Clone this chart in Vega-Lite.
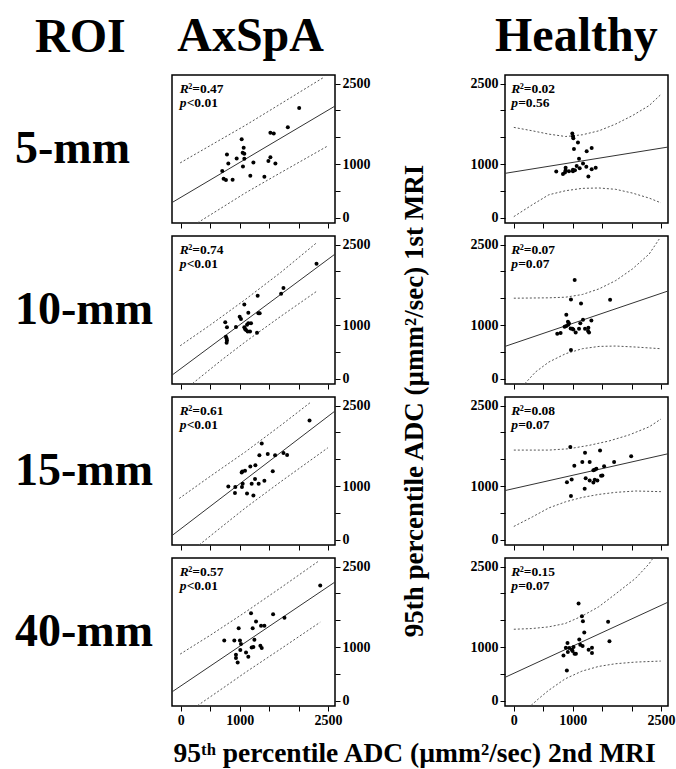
{
"$schema":"https://vega.github.io/schema/vega-lite/v6.json",
"padding":{"left":15,"top":13,"right":5,"bottom":5},
"datasets":{"s":[
{"grp":"AxSpA","roi":"5-mm","r2":"²=0.47","p":"<0.01"},
{"grp":"Healthy","roi":"5-mm","r2":"²=0.02","p":"=0.56"},
{"grp":"AxSpA","roi":"10-mm","r2":"²=0.74","p":"<0.01"},
{"grp":"Healthy","roi":"10-mm","r2":"²=0.07","p":"=0.07"},
{"grp":"AxSpA","roi":"15-mm","r2":"²=0.61","p":"<0.01"},
{"grp":"Healthy","roi":"15-mm","r2":"²=0.08","p":"=0.07"},
{"grp":"AxSpA","roi":"40-mm","r2":"²=0.57","p":"<0.01"},
{"grp":"Healthy","roi":"40-mm","r2":"²=0.15","p":"=0.07"}],
"d":[
{"grp":"AxSpA","roi":"5-mm","kind":"pt","x":2011,"y":2046},{"grp":"AxSpA","roi":"5-mm","kind":"pt","x":1818,"y":1686},{"grp":"AxSpA","roi":"5-mm","kind":"pt","x":1522,"y":1581},{"grp":"AxSpA","roi":"5-mm","kind":"pt","x":1579,"y":1569},{"grp":"AxSpA","roi":"5-mm","kind":"pt","x":1034,"y":1463},{"grp":"AxSpA","roi":"5-mm","kind":"pt","x":1068,"y":1302},{"grp":"AxSpA","roi":"5-mm","kind":"pt","x":784,"y":1178},{"grp":"AxSpA","roi":"5-mm","kind":"pt","x":1051,"y":1209},{"grp":"AxSpA","roi":"5-mm","kind":"pt","x":1079,"y":1190},{"grp":"AxSpA","roi":"5-mm","kind":"pt","x":949,"y":1104},{"grp":"AxSpA","roi":"5-mm","kind":"pt","x":1079,"y":1097},{"grp":"AxSpA","roi":"5-mm","kind":"pt","x":807,"y":1011},{"grp":"AxSpA","roi":"5-mm","kind":"pt","x":1233,"y":1029},{"grp":"AxSpA","roi":"5-mm","kind":"pt","x":1488,"y":1054},{"grp":"AxSpA","roi":"5-mm","kind":"pt","x":1522,"y":1128},{"grp":"AxSpA","roi":"5-mm","kind":"pt","x":1607,"y":1011},{"grp":"AxSpA","roi":"5-mm","kind":"pt","x":1056,"y":955},{"grp":"AxSpA","roi":"5-mm","kind":"pt","x":704,"y":868},{"grp":"AxSpA","roi":"5-mm","kind":"pt","x":1181,"y":781},{"grp":"AxSpA","roi":"5-mm","kind":"pt","x":1420,"y":763},{"grp":"AxSpA","roi":"5-mm","kind":"pt","x":727,"y":725},{"grp":"AxSpA","roi":"5-mm","kind":"pt","x":767,"y":701},{"grp":"AxSpA","roi":"5-mm","kind":"pt","x":880,"y":707},
{"grp":"AxSpA","roi":"5-mm","kind":"fit","x":-150,"y":281},{"grp":"AxSpA","roi":"5-mm","kind":"fit","x":2620,"y":2081},
{"grp":"AxSpA","roi":"5-mm","kind":"up","x":-11,"y":1021},{"grp":"AxSpA","roi":"5-mm","kind":"up","x":600,"y":1408},{"grp":"AxSpA","roi":"5-mm","kind":"up","x":1100,"y":1723},{"grp":"AxSpA","roi":"5-mm","kind":"up","x":1600,"y":2058},{"grp":"AxSpA","roi":"5-mm","kind":"up","x":2442,"y":2625},
{"grp":"AxSpA","roi":"5-mm","kind":"lo","x":284,"y":-97},{"grp":"AxSpA","roi":"5-mm","kind":"lo","x":700,"y":188},{"grp":"AxSpA","roi":"5-mm","kind":"lo","x":1100,"y":463},{"grp":"AxSpA","roi":"5-mm","kind":"lo","x":1600,"y":778},{"grp":"AxSpA","roi":"5-mm","kind":"lo","x":2499,"y":1338},

{"grp":"Healthy","roi":"5-mm","kind":"pt","x":994,"y":1570},{"grp":"Healthy","roi":"5-mm","kind":"pt","x":1005,"y":1520},{"grp":"Healthy","roi":"5-mm","kind":"pt","x":1011,"y":1482},{"grp":"Healthy","roi":"5-mm","kind":"pt","x":1090,"y":1400},{"grp":"Healthy","roi":"5-mm","kind":"pt","x":1022,"y":1281},{"grp":"Healthy","roi":"5-mm","kind":"pt","x":1323,"y":1300},{"grp":"Healthy","roi":"5-mm","kind":"pt","x":1238,"y":1237},{"grp":"Healthy","roi":"5-mm","kind":"pt","x":1108,"y":1099},{"grp":"Healthy","roi":"5-mm","kind":"pt","x":1176,"y":1011},{"grp":"Healthy","roi":"5-mm","kind":"pt","x":1068,"y":961},{"grp":"Healthy","roi":"5-mm","kind":"pt","x":1119,"y":923},{"grp":"Healthy","roi":"5-mm","kind":"pt","x":1232,"y":948},{"grp":"Healthy","roi":"5-mm","kind":"pt","x":1005,"y":892},{"grp":"Healthy","roi":"5-mm","kind":"pt","x":1039,"y":885},{"grp":"Healthy","roi":"5-mm","kind":"pt","x":1323,"y":904},{"grp":"Healthy","roi":"5-mm","kind":"pt","x":1391,"y":929},{"grp":"Healthy","roi":"5-mm","kind":"pt","x":880,"y":929},{"grp":"Healthy","roi":"5-mm","kind":"pt","x":880,"y":885},{"grp":"Healthy","roi":"5-mm","kind":"pt","x":721,"y":860},{"grp":"Healthy","roi":"5-mm","kind":"pt","x":869,"y":841},{"grp":"Healthy","roi":"5-mm","kind":"pt","x":835,"y":816},{"grp":"Healthy","roi":"5-mm","kind":"pt","x":1267,"y":766},{"grp":"Healthy","roi":"5-mm","kind":"pt","x":1005,"y":867},{"grp":"Healthy","roi":"5-mm","kind":"pt","x":937,"y":867},
{"grp":"Healthy","roi":"5-mm","kind":"fit","x":-150,"y":826},{"grp":"Healthy","roi":"5-mm","kind":"fit","x":2630,"y":1318},
{"grp":"Healthy","roi":"5-mm","kind":"up","x":0,"y":1683},{"grp":"Healthy","roi":"5-mm","kind":"up","x":312,"y":1620},{"grp":"Healthy","roi":"5-mm","kind":"up","x":596,"y":1557},{"grp":"Healthy","roi":"5-mm","kind":"up","x":880,"y":1513},{"grp":"Healthy","roi":"5-mm","kind":"up","x":1164,"y":1545},{"grp":"Healthy","roi":"5-mm","kind":"up","x":1448,"y":1620},{"grp":"Healthy","roi":"5-mm","kind":"up","x":1732,"y":1746},{"grp":"Healthy","roi":"5-mm","kind":"up","x":2016,"y":1903},{"grp":"Healthy","roi":"5-mm","kind":"up","x":2301,"y":2091},{"grp":"Healthy","roi":"5-mm","kind":"up","x":2500,"y":2298},
{"grp":"Healthy","roi":"5-mm","kind":"lo","x":0,"y":19},{"grp":"Healthy","roi":"5-mm","kind":"lo","x":312,"y":239},{"grp":"Healthy","roi":"5-mm","kind":"lo","x":596,"y":427},{"grp":"Healthy","roi":"5-mm","kind":"lo","x":880,"y":502},{"grp":"Healthy","roi":"5-mm","kind":"lo","x":1164,"y":546},{"grp":"Healthy","roi":"5-mm","kind":"lo","x":1448,"y":553},{"grp":"Healthy","roi":"5-mm","kind":"lo","x":1732,"y":528},{"grp":"Healthy","roi":"5-mm","kind":"lo","x":2016,"y":458},{"grp":"Healthy","roi":"5-mm","kind":"lo","x":2301,"y":364},{"grp":"Healthy","roi":"5-mm","kind":"lo","x":2500,"y":276},

{"grp":"AxSpA","roi":"10-mm","kind":"pt","x":2306,"y":2144},{"grp":"AxSpA","roi":"10-mm","kind":"pt","x":1744,"y":1688},{"grp":"AxSpA","roi":"10-mm","kind":"pt","x":1704,"y":1581},{"grp":"AxSpA","roi":"10-mm","kind":"pt","x":1306,"y":1544},{"grp":"AxSpA","roi":"10-mm","kind":"pt","x":1079,"y":1381},{"grp":"AxSpA","roi":"10-mm","kind":"pt","x":1147,"y":1231},{"grp":"AxSpA","roi":"10-mm","kind":"pt","x":1318,"y":1219},{"grp":"AxSpA","roi":"10-mm","kind":"pt","x":1340,"y":1219},{"grp":"AxSpA","roi":"10-mm","kind":"pt","x":1000,"y":1156},{"grp":"AxSpA","roi":"10-mm","kind":"pt","x":1022,"y":1113},{"grp":"AxSpA","roi":"10-mm","kind":"pt","x":755,"y":1050},{"grp":"AxSpA","roi":"10-mm","kind":"pt","x":1147,"y":1031},{"grp":"AxSpA","roi":"10-mm","kind":"pt","x":1193,"y":1031},{"grp":"AxSpA","roi":"10-mm","kind":"pt","x":1125,"y":1006},{"grp":"AxSpA","roi":"10-mm","kind":"pt","x":937,"y":963},{"grp":"AxSpA","roi":"10-mm","kind":"pt","x":784,"y":956},{"grp":"AxSpA","roi":"10-mm","kind":"pt","x":1079,"y":956},{"grp":"AxSpA","roi":"10-mm","kind":"pt","x":1091,"y":925},{"grp":"AxSpA","roi":"10-mm","kind":"pt","x":1108,"y":906},{"grp":"AxSpA","roi":"10-mm","kind":"pt","x":1136,"y":881},{"grp":"AxSpA","roi":"10-mm","kind":"pt","x":1176,"y":881},{"grp":"AxSpA","roi":"10-mm","kind":"pt","x":1295,"y":856},{"grp":"AxSpA","roi":"10-mm","kind":"pt","x":767,"y":781},{"grp":"AxSpA","roi":"10-mm","kind":"pt","x":778,"y":750},{"grp":"AxSpA","roi":"10-mm","kind":"pt","x":784,"y":713},{"grp":"AxSpA","roi":"10-mm","kind":"pt","x":778,"y":669},
{"grp":"AxSpA","roi":"10-mm","kind":"fit","x":-150,"y":65},{"grp":"AxSpA","roi":"10-mm","kind":"fit","x":2630,"y":2331},
{"grp":"AxSpA","roi":"10-mm","kind":"up","x":-11,"y":613},{"grp":"AxSpA","roi":"10-mm","kind":"up","x":500,"y":1000},{"grp":"AxSpA","roi":"10-mm","kind":"up","x":1100,"y":1479},{"grp":"AxSpA","roi":"10-mm","kind":"up","x":1700,"y":1983},{"grp":"AxSpA","roi":"10-mm","kind":"up","x":2300,"y":2527},
{"grp":"AxSpA","roi":"10-mm","kind":"lo","x":199,"y":-91},{"grp":"AxSpA","roi":"10-mm","kind":"lo","x":700,"y":353},{"grp":"AxSpA","roi":"10-mm","kind":"lo","x":1100,"y":689},{"grp":"AxSpA","roi":"10-mm","kind":"lo","x":1700,"y":1163},{"grp":"AxSpA","roi":"10-mm","kind":"lo","x":2300,"y":1622},

{"grp":"Healthy","roi":"10-mm","kind":"pt","x":1034,"y":1841},{"grp":"Healthy","roi":"10-mm","kind":"pt","x":971,"y":1476},{"grp":"Healthy","roi":"10-mm","kind":"pt","x":1142,"y":1401},{"grp":"Healthy","roi":"10-mm","kind":"pt","x":1636,"y":1469},{"grp":"Healthy","roi":"10-mm","kind":"pt","x":892,"y":1190},{"grp":"Healthy","roi":"10-mm","kind":"pt","x":920,"y":1060},{"grp":"Healthy","roi":"10-mm","kind":"pt","x":937,"y":1035},{"grp":"Healthy","roi":"10-mm","kind":"pt","x":926,"y":1004},{"grp":"Healthy","roi":"10-mm","kind":"pt","x":1176,"y":1097},{"grp":"Healthy","roi":"10-mm","kind":"pt","x":1130,"y":1035},{"grp":"Healthy","roi":"10-mm","kind":"pt","x":1318,"y":1085},{"grp":"Healthy","roi":"10-mm","kind":"pt","x":863,"y":967},{"grp":"Healthy","roi":"10-mm","kind":"pt","x":966,"y":936},{"grp":"Healthy","roi":"10-mm","kind":"pt","x":994,"y":930},{"grp":"Healthy","roi":"10-mm","kind":"pt","x":892,"y":980},{"grp":"Healthy","roi":"10-mm","kind":"pt","x":1011,"y":918},{"grp":"Healthy","roi":"10-mm","kind":"pt","x":1108,"y":930},{"grp":"Healthy","roi":"10-mm","kind":"pt","x":1210,"y":930},{"grp":"Healthy","roi":"10-mm","kind":"pt","x":1267,"y":949},{"grp":"Healthy","roi":"10-mm","kind":"pt","x":1261,"y":887},{"grp":"Healthy","roi":"10-mm","kind":"pt","x":1051,"y":862},{"grp":"Healthy","roi":"10-mm","kind":"pt","x":795,"y":849},{"grp":"Healthy","roi":"10-mm","kind":"pt","x":738,"y":837},{"grp":"Healthy","roi":"10-mm","kind":"pt","x":1278,"y":862},{"grp":"Healthy","roi":"10-mm","kind":"pt","x":971,"y":533},
{"grp":"Healthy","roi":"10-mm","kind":"fit","x":-150,"y":601},{"grp":"Healthy","roi":"10-mm","kind":"fit","x":2630,"y":1638},
{"grp":"Healthy","roi":"10-mm","kind":"up","x":0,"y":1500},{"grp":"Healthy","roi":"10-mm","kind":"up","x":596,"y":1507},{"grp":"Healthy","roi":"10-mm","kind":"up","x":880,"y":1519},{"grp":"Healthy","roi":"10-mm","kind":"up","x":1164,"y":1569},{"grp":"Healthy","roi":"10-mm","kind":"up","x":1448,"y":1674},{"grp":"Healthy","roi":"10-mm","kind":"up","x":1732,"y":1829},{"grp":"Healthy","roi":"10-mm","kind":"up","x":2016,"y":2046},{"grp":"Healthy","roi":"10-mm","kind":"up","x":2301,"y":2325},{"grp":"Healthy","roi":"10-mm","kind":"up","x":2471,"y":2604},
{"grp":"Healthy","roi":"10-mm","kind":"lo","x":187,"y":-93},{"grp":"Healthy","roi":"10-mm","kind":"lo","x":369,"y":124},{"grp":"Healthy","roi":"10-mm","kind":"lo","x":596,"y":310},{"grp":"Healthy","roi":"10-mm","kind":"lo","x":880,"y":465},{"grp":"Healthy","roi":"10-mm","kind":"lo","x":1164,"y":558},{"grp":"Healthy","roi":"10-mm","kind":"lo","x":1448,"y":601},{"grp":"Healthy","roi":"10-mm","kind":"lo","x":1732,"y":608},{"grp":"Healthy","roi":"10-mm","kind":"lo","x":2073,"y":589},{"grp":"Healthy","roi":"10-mm","kind":"lo","x":2500,"y":558},

{"grp":"AxSpA","roi":"15-mm","kind":"pt","x":2187,"y":2223},{"grp":"AxSpA","roi":"15-mm","kind":"pt","x":1375,"y":1793},{"grp":"AxSpA","roi":"15-mm","kind":"pt","x":1335,"y":1572},{"grp":"AxSpA","roi":"15-mm","kind":"pt","x":1477,"y":1596},{"grp":"AxSpA","roi":"15-mm","kind":"pt","x":1602,"y":1572},{"grp":"AxSpA","roi":"15-mm","kind":"pt","x":1744,"y":1615},{"grp":"AxSpA","roi":"15-mm","kind":"pt","x":1806,"y":1578},{"grp":"AxSpA","roi":"15-mm","kind":"pt","x":1267,"y":1388},{"grp":"AxSpA","roi":"15-mm","kind":"pt","x":1181,"y":1363},{"grp":"AxSpA","roi":"15-mm","kind":"pt","x":1045,"y":1271},{"grp":"AxSpA","roi":"15-mm","kind":"pt","x":1091,"y":1283},{"grp":"AxSpA","roi":"15-mm","kind":"pt","x":1034,"y":1253},{"grp":"AxSpA","roi":"15-mm","kind":"pt","x":1562,"y":1277},{"grp":"AxSpA","roi":"15-mm","kind":"pt","x":807,"y":989},{"grp":"AxSpA","roi":"15-mm","kind":"pt","x":926,"y":982},{"grp":"AxSpA","roi":"15-mm","kind":"pt","x":1051,"y":1044},{"grp":"AxSpA","roi":"15-mm","kind":"pt","x":1039,"y":982},{"grp":"AxSpA","roi":"15-mm","kind":"pt","x":1261,"y":1130},{"grp":"AxSpA","roi":"15-mm","kind":"pt","x":1204,"y":1044},{"grp":"AxSpA","roi":"15-mm","kind":"pt","x":1323,"y":1044},{"grp":"AxSpA","roi":"15-mm","kind":"pt","x":1420,"y":1099},{"grp":"AxSpA","roi":"15-mm","kind":"pt","x":920,"y":872},{"grp":"AxSpA","roi":"15-mm","kind":"pt","x":1125,"y":860},{"grp":"AxSpA","roi":"15-mm","kind":"pt","x":1233,"y":823},
{"grp":"AxSpA","roi":"15-mm","kind":"fit","x":-150,"y":76},{"grp":"AxSpA","roi":"15-mm","kind":"fit","x":2630,"y":2407},
{"grp":"AxSpA","roi":"15-mm","kind":"up","x":-28,"y":768},{"grp":"AxSpA","roi":"15-mm","kind":"up","x":500,"y":1181},{"grp":"AxSpA","roi":"15-mm","kind":"up","x":1100,"y":1639},{"grp":"AxSpA","roi":"15-mm","kind":"up","x":1700,"y":2132},{"grp":"AxSpA","roi":"15-mm","kind":"up","x":2204,"y":2560},
{"grp":"AxSpA","roi":"15-mm","kind":"lo","x":312,"y":-98},{"grp":"AxSpA","roi":"15-mm","kind":"lo","x":700,"y":244},{"grp":"AxSpA","roi":"15-mm","kind":"lo","x":1100,"y":594},{"grp":"AxSpA","roi":"15-mm","kind":"lo","x":1700,"y":1082},{"grp":"AxSpA","roi":"15-mm","kind":"lo","x":2499,"y":1713},

{"grp":"Healthy","roi":"15-mm","kind":"pt","x":960,"y":1726},{"grp":"Healthy","roi":"15-mm","kind":"pt","x":1210,"y":1619},{"grp":"Healthy","roi":"15-mm","kind":"pt","x":1465,"y":1663},{"grp":"Healthy","roi":"15-mm","kind":"pt","x":1994,"y":1556},{"grp":"Healthy","roi":"15-mm","kind":"pt","x":1028,"y":1380},{"grp":"Healthy","roi":"15-mm","kind":"pt","x":1164,"y":1449},{"grp":"Healthy","roi":"15-mm","kind":"pt","x":1289,"y":1449},{"grp":"Healthy","roi":"15-mm","kind":"pt","x":1704,"y":1449},{"grp":"Healthy","roi":"15-mm","kind":"pt","x":1534,"y":1367},{"grp":"Healthy","roi":"15-mm","kind":"pt","x":1375,"y":1304},{"grp":"Healthy","roi":"15-mm","kind":"pt","x":1403,"y":1323},{"grp":"Healthy","roi":"15-mm","kind":"pt","x":1352,"y":1292},{"grp":"Healthy","roi":"15-mm","kind":"pt","x":1221,"y":1147},{"grp":"Healthy","roi":"15-mm","kind":"pt","x":983,"y":1121},{"grp":"Healthy","roi":"15-mm","kind":"pt","x":1289,"y":1103},{"grp":"Healthy","roi":"15-mm","kind":"pt","x":1420,"y":1103},{"grp":"Healthy","roi":"15-mm","kind":"pt","x":1482,"y":1191},{"grp":"Healthy","roi":"15-mm","kind":"pt","x":1505,"y":1197},{"grp":"Healthy","roi":"15-mm","kind":"pt","x":1375,"y":1115},{"grp":"Healthy","roi":"15-mm","kind":"pt","x":1352,"y":1065},{"grp":"Healthy","roi":"15-mm","kind":"pt","x":903,"y":1071},{"grp":"Healthy","roi":"15-mm","kind":"pt","x":971,"y":813},{"grp":"Healthy","roi":"15-mm","kind":"pt","x":1204,"y":951},
{"grp":"Healthy","roi":"15-mm","kind":"fit","x":-150,"y":915},{"grp":"Healthy","roi":"15-mm","kind":"fit","x":2630,"y":1604},
{"grp":"Healthy","roi":"15-mm","kind":"up","x":0,"y":1670},{"grp":"Healthy","roi":"15-mm","kind":"up","x":596,"y":1670},{"grp":"Healthy","roi":"15-mm","kind":"up","x":937,"y":1695},{"grp":"Healthy","roi":"15-mm","kind":"up","x":1278,"y":1758},{"grp":"Healthy","roi":"15-mm","kind":"up","x":1619,"y":1840},{"grp":"Healthy","roi":"15-mm","kind":"up","x":1960,"y":1953},{"grp":"Healthy","roi":"15-mm","kind":"up","x":2301,"y":2104},{"grp":"Healthy","roi":"15-mm","kind":"up","x":2500,"y":2249},
{"grp":"Healthy","roi":"15-mm","kind":"lo","x":0,"y":246},{"grp":"Healthy","roi":"15-mm","kind":"lo","x":312,"y":422},{"grp":"Healthy","roi":"15-mm","kind":"lo","x":596,"y":592},{"grp":"Healthy","roi":"15-mm","kind":"lo","x":880,"y":706},{"grp":"Healthy","roi":"15-mm","kind":"lo","x":1164,"y":788},{"grp":"Healthy","roi":"15-mm","kind":"lo","x":1448,"y":844},{"grp":"Healthy","roi":"15-mm","kind":"lo","x":1732,"y":882},{"grp":"Healthy","roi":"15-mm","kind":"lo","x":2073,"y":907},{"grp":"Healthy","roi":"15-mm","kind":"lo","x":2500,"y":895},

{"grp":"AxSpA","roi":"40-mm","kind":"pt","x":2369,"y":2145},{"grp":"AxSpA","roi":"40-mm","kind":"pt","x":1193,"y":1631},{"grp":"AxSpA","roi":"40-mm","kind":"pt","x":1568,"y":1612},{"grp":"AxSpA","roi":"40-mm","kind":"pt","x":1761,"y":1544},{"grp":"AxSpA","roi":"40-mm","kind":"pt","x":1278,"y":1476},{"grp":"AxSpA","roi":"40-mm","kind":"pt","x":1363,"y":1395},{"grp":"AxSpA","roi":"40-mm","kind":"pt","x":1420,"y":1395},{"grp":"AxSpA","roi":"40-mm","kind":"pt","x":983,"y":1352},{"grp":"AxSpA","roi":"40-mm","kind":"pt","x":1221,"y":1352},{"grp":"AxSpA","roi":"40-mm","kind":"pt","x":738,"y":1122},{"grp":"AxSpA","roi":"40-mm","kind":"pt","x":909,"y":1122},{"grp":"AxSpA","roi":"40-mm","kind":"pt","x":1005,"y":1122},{"grp":"AxSpA","roi":"40-mm","kind":"pt","x":1022,"y":1054},{"grp":"AxSpA","roi":"40-mm","kind":"pt","x":1250,"y":1135},{"grp":"AxSpA","roi":"40-mm","kind":"pt","x":1233,"y":998},{"grp":"AxSpA","roi":"40-mm","kind":"pt","x":1204,"y":992},{"grp":"AxSpA","roi":"40-mm","kind":"pt","x":1352,"y":1023},{"grp":"AxSpA","roi":"40-mm","kind":"pt","x":1375,"y":980},{"grp":"AxSpA","roi":"40-mm","kind":"pt","x":1011,"y":942},{"grp":"AxSpA","roi":"40-mm","kind":"pt","x":1108,"y":899},{"grp":"AxSpA","roi":"40-mm","kind":"pt","x":937,"y":856},{"grp":"AxSpA","roi":"40-mm","kind":"pt","x":937,"y":794},{"grp":"AxSpA","roi":"40-mm","kind":"pt","x":1147,"y":818},{"grp":"AxSpA","roi":"40-mm","kind":"pt","x":966,"y":713},
{"grp":"AxSpA","roi":"40-mm","kind":"fit","x":-150,"y":163},{"grp":"AxSpA","roi":"40-mm","kind":"fit","x":2630,"y":2220},
{"grp":"AxSpA","roi":"40-mm","kind":"up","x":-11,"y":868},{"grp":"AxSpA","roi":"40-mm","kind":"up","x":500,"y":1219},{"grp":"AxSpA","roi":"40-mm","kind":"up","x":1100,"y":1653},{"grp":"AxSpA","roi":"40-mm","kind":"up","x":1700,"y":2107},{"grp":"AxSpA","roi":"40-mm","kind":"up","x":2329,"y":2592},
{"grp":"AxSpA","roi":"40-mm","kind":"lo","x":227,"y":-136},{"grp":"AxSpA","roi":"40-mm","kind":"lo","x":700,"y":222},{"grp":"AxSpA","roi":"40-mm","kind":"lo","x":1100,"y":528},{"grp":"AxSpA","roi":"40-mm","kind":"lo","x":1700,"y":967},{"grp":"AxSpA","roi":"40-mm","kind":"lo","x":2369,"y":1463},

{"grp":"Healthy","roi":"40-mm","kind":"pt","x":1100,"y":1813},{"grp":"Healthy","roi":"40-mm","kind":"pt","x":1157,"y":1575},{"grp":"Healthy","roi":"40-mm","kind":"pt","x":1174,"y":1481},{"grp":"Healthy","roi":"40-mm","kind":"pt","x":1602,"y":1469},{"grp":"Healthy","roi":"40-mm","kind":"pt","x":1197,"y":1269},{"grp":"Healthy","roi":"40-mm","kind":"pt","x":1625,"y":1106},{"grp":"Healthy","roi":"40-mm","kind":"pt","x":1112,"y":1138},{"grp":"Healthy","roi":"40-mm","kind":"pt","x":1129,"y":1044},{"grp":"Healthy","roi":"40-mm","kind":"pt","x":1169,"y":1019},{"grp":"Healthy","roi":"40-mm","kind":"pt","x":1015,"y":1000},{"grp":"Healthy","roi":"40-mm","kind":"pt","x":912,"y":1075},{"grp":"Healthy","roi":"40-mm","kind":"pt","x":884,"y":988},{"grp":"Healthy","roi":"40-mm","kind":"pt","x":918,"y":906},{"grp":"Healthy","roi":"40-mm","kind":"pt","x":986,"y":950},{"grp":"Healthy","roi":"40-mm","kind":"pt","x":998,"y":925},{"grp":"Healthy","roi":"40-mm","kind":"pt","x":1055,"y":875},{"grp":"Healthy","roi":"40-mm","kind":"pt","x":1032,"y":875},{"grp":"Healthy","roi":"40-mm","kind":"pt","x":1271,"y":950},{"grp":"Healthy","roi":"40-mm","kind":"pt","x":1328,"y":988},{"grp":"Healthy","roi":"40-mm","kind":"pt","x":1328,"y":888},{"grp":"Healthy","roi":"40-mm","kind":"pt","x":844,"y":844},{"grp":"Healthy","roi":"40-mm","kind":"pt","x":901,"y":563},{"grp":"Healthy","roi":"40-mm","kind":"pt","x":941,"y":981},
{"grp":"Healthy","roi":"40-mm","kind":"fit","x":-150,"y":434},{"grp":"Healthy","roi":"40-mm","kind":"fit","x":2630,"y":1841},
{"grp":"Healthy","roi":"40-mm","kind":"up","x":0,"y":1331},{"grp":"Healthy","roi":"40-mm","kind":"up","x":302,"y":1344},{"grp":"Healthy","roi":"40-mm","kind":"up","x":587,"y":1375},{"grp":"Healthy","roi":"40-mm","kind":"up","x":872,"y":1438},{"grp":"Healthy","roi":"40-mm","kind":"up","x":1157,"y":1575},{"grp":"Healthy","roi":"40-mm","kind":"up","x":1442,"y":1750},{"grp":"Healthy","roi":"40-mm","kind":"up","x":1727,"y":1988},{"grp":"Healthy","roi":"40-mm","kind":"up","x":2069,"y":2281},{"grp":"Healthy","roi":"40-mm","kind":"up","x":2297,"y":2550},{"grp":"Healthy","roi":"40-mm","kind":"up","x":2380,"y":2680},
{"grp":"Healthy","roi":"40-mm","kind":"lo","x":245,"y":-137},{"grp":"Healthy","roi":"40-mm","kind":"lo","x":416,"y":31},{"grp":"Healthy","roi":"40-mm","kind":"lo","x":587,"y":188},{"grp":"Healthy","roi":"40-mm","kind":"lo","x":872,"y":406},{"grp":"Healthy","roi":"40-mm","kind":"lo","x":1157,"y":550},{"grp":"Healthy","roi":"40-mm","kind":"lo","x":1442,"y":638},{"grp":"Healthy","roi":"40-mm","kind":"lo","x":1727,"y":688},{"grp":"Healthy","roi":"40-mm","kind":"lo","x":2069,"y":719},{"grp":"Healthy","roi":"40-mm","kind":"lo","x":2497,"y":738}
]},
"title":{"text":"95ᵗʰ percentile ADC (µmm²/sec) 2nd MRI","orient":"bottom","anchor":"end","fontSize":27.5,"offset":12,"dx":-20},
"spacing":16,
"hconcat":[
{"title":{"text":"ROI","fontSize":48,"anchor":"start","dx":20,"offset":13},"spacing":13,"vconcat":[
{"width":140,"height":148,"view":{"stroke":null},"data":{"values":[{"label":"5-mm"}]},"mark":{"type":"text","fontSize":46,"baseline":"middle"},"encoding":{"text":{"field":"label"},"x":{"datum":0,"scale":{"domain":[0,1]},"axis":null}}},
{"width":140,"height":148,"view":{"stroke":null},"data":{"values":[{"label":"10-mm"}]},"mark":{"type":"text","fontSize":46,"baseline":"middle"},"encoding":{"text":{"field":"label"},"x":{"datum":0,"scale":{"domain":[0,1]},"axis":null}}},
{"width":140,"height":148,"view":{"stroke":null},"data":{"values":[{"label":"15-mm"}]},"mark":{"type":"text","fontSize":46,"baseline":"middle"},"encoding":{"text":{"field":"label"},"x":{"datum":0,"scale":{"domain":[0,1]},"axis":null}}},
{"width":140,"height":148,"view":{"stroke":null},"data":{"values":[{"label":"40-mm"}]},"mark":{"type":"text","fontSize":46,"baseline":"middle"},"encoding":{"text":{"field":"label"},"x":{"datum":0,"scale":{"domain":[0,1]},"axis":null}}}
]},
{"spacing":30,"hconcat":[
{"title":{"text":"AxSpA","fontSize":48,"anchor":"start","dx":6,"offset":13},"spacing":5,"vconcat":[

{"width":163,"height":148,"layer":[
{"encoding":{"x":{"field":"x","type":"quantitative","scale":{"domain":[-150,2620],"nice":false,"zero":false},"axis":{"orient":"bottom","values":[0,500,1000,1500,2000,2500],"labels":false,"title":null}},"y":{"field":"y","type":"quantitative","scale":{"domain":[-100,2660],"nice":false,"zero":false},"axis":{"orient":"right","values":[0,500,1000,1500,2000,2500],"labelExpr":"(datum.value==0||datum.value==1000||datum.value==2500)?datum.label:''","title":null}}},
"layer":[
{"data":{"name":"d"},"transform":[{"filter":"datum.grp=='AxSpA' && datum.roi=='5-mm' && (datum.kind=='up'||datum.kind=='lo')"}],"mark":{"type":"line","clip":true,"strokeDash":[2,2],"strokeWidth":1,"color":"#555"},"encoding":{"detail":{"field":"kind"}}},
{"data":{"name":"d"},"transform":[{"filter":"datum.grp=='AxSpA' && datum.roi=='5-mm' && datum.kind=='fit'"}],"mark":{"type":"line","clip":true,"strokeWidth":1,"color":"#333"},"encoding":{}},
{"data":{"name":"d"},"transform":[{"filter":"datum.grp=='AxSpA' && datum.roi=='5-mm' && datum.kind=='pt'"}],"mark":{"type":"circle","size":16,"color":"#000","opacity":1},"encoding":{}}]},
{"data":{"name":"s"},"transform":[{"filter":"datum.grp=='AxSpA' && datum.roi=='5-mm'"}],
"encoding":{"x":{"datum":-20,"type":"quantitative","scale":{"domain":[-150,2620],"nice":false,"zero":false},"axis":{"orient":"bottom","values":[0,500,1000,1500,2000,2500],"labels":false,"title":null}},"y":{"datum":2330,"type":"quantitative","scale":{"domain":[-100,2660],"nice":false,"zero":false},"axis":{"orient":"right","values":[0,500,1000,1500,2000,2500],"labelExpr":"(datum.value==0||datum.value==1000||datum.value==2500)?datum.label:''","title":null}}},
"layer":[{"mark":{"type":"text","fontStyle":"italic"},"encoding":{"text":{"value":"R"}}},{"mark":{"type":"text","dx":8.5},"encoding":{"text":{"field":"r2"}}}]},
{"data":{"name":"s"},"transform":[{"filter":"datum.grp=='AxSpA' && datum.roi=='5-mm'"}],
"encoding":{"x":{"datum":-20,"type":"quantitative","scale":{"domain":[-150,2620],"nice":false,"zero":false},"axis":{"orient":"bottom","values":[0,500,1000,1500,2000,2500],"labels":false,"title":null}},"y":{"datum":2070,"type":"quantitative","scale":{"domain":[-100,2660],"nice":false,"zero":false},"axis":{"orient":"right","values":[0,500,1000,1500,2000,2500],"labelExpr":"(datum.value==0||datum.value==1000||datum.value==2500)?datum.label:''","title":null}}},
"layer":[{"mark":{"type":"text","fontStyle":"italic"},"encoding":{"text":{"value":"p"}}},{"mark":{"type":"text","dx":7},"encoding":{"text":{"field":"p"}}}]}
]},

{"width":163,"height":148,"layer":[
{"encoding":{"x":{"field":"x","type":"quantitative","scale":{"domain":[-150,2620],"nice":false,"zero":false},"axis":{"orient":"bottom","values":[0,500,1000,1500,2000,2500],"labels":false,"title":null}},"y":{"field":"y","type":"quantitative","scale":{"domain":[-100,2660],"nice":false,"zero":false},"axis":{"orient":"right","values":[0,500,1000,1500,2000,2500],"labelExpr":"(datum.value==0||datum.value==1000||datum.value==2500)?datum.label:''","title":null}}},
"layer":[
{"data":{"name":"d"},"transform":[{"filter":"datum.grp=='AxSpA' && datum.roi=='10-mm' && (datum.kind=='up'||datum.kind=='lo')"}],"mark":{"type":"line","clip":true,"strokeDash":[2,2],"strokeWidth":1,"color":"#555"},"encoding":{"detail":{"field":"kind"}}},
{"data":{"name":"d"},"transform":[{"filter":"datum.grp=='AxSpA' && datum.roi=='10-mm' && datum.kind=='fit'"}],"mark":{"type":"line","clip":true,"strokeWidth":1,"color":"#333"},"encoding":{}},
{"data":{"name":"d"},"transform":[{"filter":"datum.grp=='AxSpA' && datum.roi=='10-mm' && datum.kind=='pt'"}],"mark":{"type":"circle","size":16,"color":"#000","opacity":1},"encoding":{}}]},
{"data":{"name":"s"},"transform":[{"filter":"datum.grp=='AxSpA' && datum.roi=='10-mm'"}],
"encoding":{"x":{"datum":-20,"type":"quantitative","scale":{"domain":[-150,2620],"nice":false,"zero":false},"axis":{"orient":"bottom","values":[0,500,1000,1500,2000,2500],"labels":false,"title":null}},"y":{"datum":2330,"type":"quantitative","scale":{"domain":[-100,2660],"nice":false,"zero":false},"axis":{"orient":"right","values":[0,500,1000,1500,2000,2500],"labelExpr":"(datum.value==0||datum.value==1000||datum.value==2500)?datum.label:''","title":null}}},
"layer":[{"mark":{"type":"text","fontStyle":"italic"},"encoding":{"text":{"value":"R"}}},{"mark":{"type":"text","dx":8.5},"encoding":{"text":{"field":"r2"}}}]},
{"data":{"name":"s"},"transform":[{"filter":"datum.grp=='AxSpA' && datum.roi=='10-mm'"}],
"encoding":{"x":{"datum":-20,"type":"quantitative","scale":{"domain":[-150,2620],"nice":false,"zero":false},"axis":{"orient":"bottom","values":[0,500,1000,1500,2000,2500],"labels":false,"title":null}},"y":{"datum":2070,"type":"quantitative","scale":{"domain":[-100,2660],"nice":false,"zero":false},"axis":{"orient":"right","values":[0,500,1000,1500,2000,2500],"labelExpr":"(datum.value==0||datum.value==1000||datum.value==2500)?datum.label:''","title":null}}},
"layer":[{"mark":{"type":"text","fontStyle":"italic"},"encoding":{"text":{"value":"p"}}},{"mark":{"type":"text","dx":7},"encoding":{"text":{"field":"p"}}}]}
]},

{"width":163,"height":148,"layer":[
{"encoding":{"x":{"field":"x","type":"quantitative","scale":{"domain":[-150,2620],"nice":false,"zero":false},"axis":{"orient":"bottom","values":[0,500,1000,1500,2000,2500],"labels":false,"title":null}},"y":{"field":"y","type":"quantitative","scale":{"domain":[-100,2660],"nice":false,"zero":false},"axis":{"orient":"right","values":[0,500,1000,1500,2000,2500],"labelExpr":"(datum.value==0||datum.value==1000||datum.value==2500)?datum.label:''","title":null}}},
"layer":[
{"data":{"name":"d"},"transform":[{"filter":"datum.grp=='AxSpA' && datum.roi=='15-mm' && (datum.kind=='up'||datum.kind=='lo')"}],"mark":{"type":"line","clip":true,"strokeDash":[2,2],"strokeWidth":1,"color":"#555"},"encoding":{"detail":{"field":"kind"}}},
{"data":{"name":"d"},"transform":[{"filter":"datum.grp=='AxSpA' && datum.roi=='15-mm' && datum.kind=='fit'"}],"mark":{"type":"line","clip":true,"strokeWidth":1,"color":"#333"},"encoding":{}},
{"data":{"name":"d"},"transform":[{"filter":"datum.grp=='AxSpA' && datum.roi=='15-mm' && datum.kind=='pt'"}],"mark":{"type":"circle","size":16,"color":"#000","opacity":1},"encoding":{}}]},
{"data":{"name":"s"},"transform":[{"filter":"datum.grp=='AxSpA' && datum.roi=='15-mm'"}],
"encoding":{"x":{"datum":-20,"type":"quantitative","scale":{"domain":[-150,2620],"nice":false,"zero":false},"axis":{"orient":"bottom","values":[0,500,1000,1500,2000,2500],"labels":false,"title":null}},"y":{"datum":2330,"type":"quantitative","scale":{"domain":[-100,2660],"nice":false,"zero":false},"axis":{"orient":"right","values":[0,500,1000,1500,2000,2500],"labelExpr":"(datum.value==0||datum.value==1000||datum.value==2500)?datum.label:''","title":null}}},
"layer":[{"mark":{"type":"text","fontStyle":"italic"},"encoding":{"text":{"value":"R"}}},{"mark":{"type":"text","dx":8.5},"encoding":{"text":{"field":"r2"}}}]},
{"data":{"name":"s"},"transform":[{"filter":"datum.grp=='AxSpA' && datum.roi=='15-mm'"}],
"encoding":{"x":{"datum":-20,"type":"quantitative","scale":{"domain":[-150,2620],"nice":false,"zero":false},"axis":{"orient":"bottom","values":[0,500,1000,1500,2000,2500],"labels":false,"title":null}},"y":{"datum":2070,"type":"quantitative","scale":{"domain":[-100,2660],"nice":false,"zero":false},"axis":{"orient":"right","values":[0,500,1000,1500,2000,2500],"labelExpr":"(datum.value==0||datum.value==1000||datum.value==2500)?datum.label:''","title":null}}},
"layer":[{"mark":{"type":"text","fontStyle":"italic"},"encoding":{"text":{"value":"p"}}},{"mark":{"type":"text","dx":7},"encoding":{"text":{"field":"p"}}}]}
]},

{"width":163,"height":148,"layer":[
{"encoding":{"x":{"field":"x","type":"quantitative","scale":{"domain":[-150,2620],"nice":false,"zero":false},"axis":{"orient":"bottom","values":[0,500,1000,1500,2000,2500],"labelExpr":"(datum.value==0||datum.value==1000||datum.value==2500)?datum.label:''","title":null}},"y":{"field":"y","type":"quantitative","scale":{"domain":[-100,2660],"nice":false,"zero":false},"axis":{"orient":"right","values":[0,500,1000,1500,2000,2500],"labelExpr":"(datum.value==0||datum.value==1000||datum.value==2500)?datum.label:''","title":null}}},
"layer":[
{"data":{"name":"d"},"transform":[{"filter":"datum.grp=='AxSpA' && datum.roi=='40-mm' && (datum.kind=='up'||datum.kind=='lo')"}],"mark":{"type":"line","clip":true,"strokeDash":[2,2],"strokeWidth":1,"color":"#555"},"encoding":{"detail":{"field":"kind"}}},
{"data":{"name":"d"},"transform":[{"filter":"datum.grp=='AxSpA' && datum.roi=='40-mm' && datum.kind=='fit'"}],"mark":{"type":"line","clip":true,"strokeWidth":1,"color":"#333"},"encoding":{}},
{"data":{"name":"d"},"transform":[{"filter":"datum.grp=='AxSpA' && datum.roi=='40-mm' && datum.kind=='pt'"}],"mark":{"type":"circle","size":16,"color":"#000","opacity":1},"encoding":{}}]},
{"data":{"name":"s"},"transform":[{"filter":"datum.grp=='AxSpA' && datum.roi=='40-mm'"}],
"encoding":{"x":{"datum":-20,"type":"quantitative","scale":{"domain":[-150,2620],"nice":false,"zero":false},"axis":{"orient":"bottom","values":[0,500,1000,1500,2000,2500],"labelExpr":"(datum.value==0||datum.value==1000||datum.value==2500)?datum.label:''","title":null}},"y":{"datum":2330,"type":"quantitative","scale":{"domain":[-100,2660],"nice":false,"zero":false},"axis":{"orient":"right","values":[0,500,1000,1500,2000,2500],"labelExpr":"(datum.value==0||datum.value==1000||datum.value==2500)?datum.label:''","title":null}}},
"layer":[{"mark":{"type":"text","fontStyle":"italic"},"encoding":{"text":{"value":"R"}}},{"mark":{"type":"text","dx":8.5},"encoding":{"text":{"field":"r2"}}}]},
{"data":{"name":"s"},"transform":[{"filter":"datum.grp=='AxSpA' && datum.roi=='40-mm'"}],
"encoding":{"x":{"datum":-20,"type":"quantitative","scale":{"domain":[-150,2620],"nice":false,"zero":false},"axis":{"orient":"bottom","values":[0,500,1000,1500,2000,2500],"labelExpr":"(datum.value==0||datum.value==1000||datum.value==2500)?datum.label:''","title":null}},"y":{"datum":2070,"type":"quantitative","scale":{"domain":[-100,2660],"nice":false,"zero":false},"axis":{"orient":"right","values":[0,500,1000,1500,2000,2500],"labelExpr":"(datum.value==0||datum.value==1000||datum.value==2500)?datum.label:''","title":null}}},
"layer":[{"mark":{"type":"text","fontStyle":"italic"},"encoding":{"text":{"value":"p"}}},{"mark":{"type":"text","dx":7},"encoding":{"text":{"field":"p"}}}]}
]}
]},
{"title":{"text":"Healthy","fontSize":48,"anchor":"end","dx":-18,"offset":13},"vconcat":[
{"title":{"text":"95th percentile ADC (µmm²/sec) 1st MRI","orient":"left","anchor":"middle","fontSize":27,"offset":40},"spacing":5,"vconcat":[

{"width":163,"height":148,"layer":[
{"encoding":{"x":{"field":"x","type":"quantitative","scale":{"domain":[-150,2620],"nice":false,"zero":false},"axis":{"orient":"bottom","values":[0,500,1000,1500,2000,2500],"labels":false,"title":null}},"y":{"field":"y","type":"quantitative","scale":{"domain":[-100,2660],"nice":false,"zero":false},"axis":{"orient":"left","values":[0,500,1000,1500,2000,2500],"labelExpr":"(datum.value==0||datum.value==1000||datum.value==2500)?datum.label:''","title":null}}},
"layer":[
{"data":{"name":"d"},"transform":[{"filter":"datum.grp=='Healthy' && datum.roi=='5-mm' && (datum.kind=='up'||datum.kind=='lo')"}],"mark":{"type":"line","clip":true,"strokeDash":[2,2],"strokeWidth":1,"color":"#555"},"encoding":{"detail":{"field":"kind"}}},
{"data":{"name":"d"},"transform":[{"filter":"datum.grp=='Healthy' && datum.roi=='5-mm' && datum.kind=='fit'"}],"mark":{"type":"line","clip":true,"strokeWidth":1,"color":"#333"},"encoding":{}},
{"data":{"name":"d"},"transform":[{"filter":"datum.grp=='Healthy' && datum.roi=='5-mm' && datum.kind=='pt'"}],"mark":{"type":"circle","size":16,"color":"#000","opacity":1},"encoding":{}}]},
{"data":{"name":"s"},"transform":[{"filter":"datum.grp=='Healthy' && datum.roi=='5-mm'"}],
"encoding":{"x":{"datum":-45,"type":"quantitative","scale":{"domain":[-150,2620],"nice":false,"zero":false},"axis":{"orient":"bottom","values":[0,500,1000,1500,2000,2500],"labels":false,"title":null}},"y":{"datum":2320,"type":"quantitative","scale":{"domain":[-100,2660],"nice":false,"zero":false},"axis":{"orient":"left","values":[0,500,1000,1500,2000,2500],"labelExpr":"(datum.value==0||datum.value==1000||datum.value==2500)?datum.label:''","title":null}}},
"layer":[{"mark":{"type":"text","fontStyle":"italic"},"encoding":{"text":{"value":"R"}}},{"mark":{"type":"text","dx":8.5},"encoding":{"text":{"field":"r2"}}}]},
{"data":{"name":"s"},"transform":[{"filter":"datum.grp=='Healthy' && datum.roi=='5-mm'"}],
"encoding":{"x":{"datum":-45,"type":"quantitative","scale":{"domain":[-150,2620],"nice":false,"zero":false},"axis":{"orient":"bottom","values":[0,500,1000,1500,2000,2500],"labels":false,"title":null}},"y":{"datum":2060,"type":"quantitative","scale":{"domain":[-100,2660],"nice":false,"zero":false},"axis":{"orient":"left","values":[0,500,1000,1500,2000,2500],"labelExpr":"(datum.value==0||datum.value==1000||datum.value==2500)?datum.label:''","title":null}}},
"layer":[{"mark":{"type":"text","fontStyle":"italic"},"encoding":{"text":{"value":"p"}}},{"mark":{"type":"text","dx":7},"encoding":{"text":{"field":"p"}}}]}
]},

{"width":163,"height":148,"layer":[
{"encoding":{"x":{"field":"x","type":"quantitative","scale":{"domain":[-150,2620],"nice":false,"zero":false},"axis":{"orient":"bottom","values":[0,500,1000,1500,2000,2500],"labels":false,"title":null}},"y":{"field":"y","type":"quantitative","scale":{"domain":[-100,2660],"nice":false,"zero":false},"axis":{"orient":"left","values":[0,500,1000,1500,2000,2500],"labelExpr":"(datum.value==0||datum.value==1000||datum.value==2500)?datum.label:''","title":null}}},
"layer":[
{"data":{"name":"d"},"transform":[{"filter":"datum.grp=='Healthy' && datum.roi=='10-mm' && (datum.kind=='up'||datum.kind=='lo')"}],"mark":{"type":"line","clip":true,"strokeDash":[2,2],"strokeWidth":1,"color":"#555"},"encoding":{"detail":{"field":"kind"}}},
{"data":{"name":"d"},"transform":[{"filter":"datum.grp=='Healthy' && datum.roi=='10-mm' && datum.kind=='fit'"}],"mark":{"type":"line","clip":true,"strokeWidth":1,"color":"#333"},"encoding":{}},
{"data":{"name":"d"},"transform":[{"filter":"datum.grp=='Healthy' && datum.roi=='10-mm' && datum.kind=='pt'"}],"mark":{"type":"circle","size":16,"color":"#000","opacity":1},"encoding":{}}]},
{"data":{"name":"s"},"transform":[{"filter":"datum.grp=='Healthy' && datum.roi=='10-mm'"}],
"encoding":{"x":{"datum":-45,"type":"quantitative","scale":{"domain":[-150,2620],"nice":false,"zero":false},"axis":{"orient":"bottom","values":[0,500,1000,1500,2000,2500],"labels":false,"title":null}},"y":{"datum":2320,"type":"quantitative","scale":{"domain":[-100,2660],"nice":false,"zero":false},"axis":{"orient":"left","values":[0,500,1000,1500,2000,2500],"labelExpr":"(datum.value==0||datum.value==1000||datum.value==2500)?datum.label:''","title":null}}},
"layer":[{"mark":{"type":"text","fontStyle":"italic"},"encoding":{"text":{"value":"R"}}},{"mark":{"type":"text","dx":8.5},"encoding":{"text":{"field":"r2"}}}]},
{"data":{"name":"s"},"transform":[{"filter":"datum.grp=='Healthy' && datum.roi=='10-mm'"}],
"encoding":{"x":{"datum":-45,"type":"quantitative","scale":{"domain":[-150,2620],"nice":false,"zero":false},"axis":{"orient":"bottom","values":[0,500,1000,1500,2000,2500],"labels":false,"title":null}},"y":{"datum":2060,"type":"quantitative","scale":{"domain":[-100,2660],"nice":false,"zero":false},"axis":{"orient":"left","values":[0,500,1000,1500,2000,2500],"labelExpr":"(datum.value==0||datum.value==1000||datum.value==2500)?datum.label:''","title":null}}},
"layer":[{"mark":{"type":"text","fontStyle":"italic"},"encoding":{"text":{"value":"p"}}},{"mark":{"type":"text","dx":7},"encoding":{"text":{"field":"p"}}}]}
]},

{"width":163,"height":148,"layer":[
{"encoding":{"x":{"field":"x","type":"quantitative","scale":{"domain":[-150,2620],"nice":false,"zero":false},"axis":{"orient":"bottom","values":[0,500,1000,1500,2000,2500],"labels":false,"title":null}},"y":{"field":"y","type":"quantitative","scale":{"domain":[-100,2660],"nice":false,"zero":false},"axis":{"orient":"left","values":[0,500,1000,1500,2000,2500],"labelExpr":"(datum.value==0||datum.value==1000||datum.value==2500)?datum.label:''","title":null}}},
"layer":[
{"data":{"name":"d"},"transform":[{"filter":"datum.grp=='Healthy' && datum.roi=='15-mm' && (datum.kind=='up'||datum.kind=='lo')"}],"mark":{"type":"line","clip":true,"strokeDash":[2,2],"strokeWidth":1,"color":"#555"},"encoding":{"detail":{"field":"kind"}}},
{"data":{"name":"d"},"transform":[{"filter":"datum.grp=='Healthy' && datum.roi=='15-mm' && datum.kind=='fit'"}],"mark":{"type":"line","clip":true,"strokeWidth":1,"color":"#333"},"encoding":{}},
{"data":{"name":"d"},"transform":[{"filter":"datum.grp=='Healthy' && datum.roi=='15-mm' && datum.kind=='pt'"}],"mark":{"type":"circle","size":16,"color":"#000","opacity":1},"encoding":{}}]},
{"data":{"name":"s"},"transform":[{"filter":"datum.grp=='Healthy' && datum.roi=='15-mm'"}],
"encoding":{"x":{"datum":-45,"type":"quantitative","scale":{"domain":[-150,2620],"nice":false,"zero":false},"axis":{"orient":"bottom","values":[0,500,1000,1500,2000,2500],"labels":false,"title":null}},"y":{"datum":2320,"type":"quantitative","scale":{"domain":[-100,2660],"nice":false,"zero":false},"axis":{"orient":"left","values":[0,500,1000,1500,2000,2500],"labelExpr":"(datum.value==0||datum.value==1000||datum.value==2500)?datum.label:''","title":null}}},
"layer":[{"mark":{"type":"text","fontStyle":"italic"},"encoding":{"text":{"value":"R"}}},{"mark":{"type":"text","dx":8.5},"encoding":{"text":{"field":"r2"}}}]},
{"data":{"name":"s"},"transform":[{"filter":"datum.grp=='Healthy' && datum.roi=='15-mm'"}],
"encoding":{"x":{"datum":-45,"type":"quantitative","scale":{"domain":[-150,2620],"nice":false,"zero":false},"axis":{"orient":"bottom","values":[0,500,1000,1500,2000,2500],"labels":false,"title":null}},"y":{"datum":2060,"type":"quantitative","scale":{"domain":[-100,2660],"nice":false,"zero":false},"axis":{"orient":"left","values":[0,500,1000,1500,2000,2500],"labelExpr":"(datum.value==0||datum.value==1000||datum.value==2500)?datum.label:''","title":null}}},
"layer":[{"mark":{"type":"text","fontStyle":"italic"},"encoding":{"text":{"value":"p"}}},{"mark":{"type":"text","dx":7},"encoding":{"text":{"field":"p"}}}]}
]},

{"width":163,"height":148,"layer":[
{"encoding":{"x":{"field":"x","type":"quantitative","scale":{"domain":[-150,2620],"nice":false,"zero":false},"axis":{"orient":"bottom","values":[0,500,1000,1500,2000,2500],"labelExpr":"(datum.value==0||datum.value==1000||datum.value==2500)?datum.label:''","title":null}},"y":{"field":"y","type":"quantitative","scale":{"domain":[-100,2660],"nice":false,"zero":false},"axis":{"orient":"left","values":[0,500,1000,1500,2000,2500],"labelExpr":"(datum.value==0||datum.value==1000||datum.value==2500)?datum.label:''","title":null}}},
"layer":[
{"data":{"name":"d"},"transform":[{"filter":"datum.grp=='Healthy' && datum.roi=='40-mm' && (datum.kind=='up'||datum.kind=='lo')"}],"mark":{"type":"line","clip":true,"strokeDash":[2,2],"strokeWidth":1,"color":"#555"},"encoding":{"detail":{"field":"kind"}}},
{"data":{"name":"d"},"transform":[{"filter":"datum.grp=='Healthy' && datum.roi=='40-mm' && datum.kind=='fit'"}],"mark":{"type":"line","clip":true,"strokeWidth":1,"color":"#333"},"encoding":{}},
{"data":{"name":"d"},"transform":[{"filter":"datum.grp=='Healthy' && datum.roi=='40-mm' && datum.kind=='pt'"}],"mark":{"type":"circle","size":16,"color":"#000","opacity":1},"encoding":{}}]},
{"data":{"name":"s"},"transform":[{"filter":"datum.grp=='Healthy' && datum.roi=='40-mm'"}],
"encoding":{"x":{"datum":-45,"type":"quantitative","scale":{"domain":[-150,2620],"nice":false,"zero":false},"axis":{"orient":"bottom","values":[0,500,1000,1500,2000,2500],"labelExpr":"(datum.value==0||datum.value==1000||datum.value==2500)?datum.label:''","title":null}},"y":{"datum":2320,"type":"quantitative","scale":{"domain":[-100,2660],"nice":false,"zero":false},"axis":{"orient":"left","values":[0,500,1000,1500,2000,2500],"labelExpr":"(datum.value==0||datum.value==1000||datum.value==2500)?datum.label:''","title":null}}},
"layer":[{"mark":{"type":"text","fontStyle":"italic"},"encoding":{"text":{"value":"R"}}},{"mark":{"type":"text","dx":8.5},"encoding":{"text":{"field":"r2"}}}]},
{"data":{"name":"s"},"transform":[{"filter":"datum.grp=='Healthy' && datum.roi=='40-mm'"}],
"encoding":{"x":{"datum":-45,"type":"quantitative","scale":{"domain":[-150,2620],"nice":false,"zero":false},"axis":{"orient":"bottom","values":[0,500,1000,1500,2000,2500],"labelExpr":"(datum.value==0||datum.value==1000||datum.value==2500)?datum.label:''","title":null}},"y":{"datum":2060,"type":"quantitative","scale":{"domain":[-100,2660],"nice":false,"zero":false},"axis":{"orient":"left","values":[0,500,1000,1500,2000,2500],"labelExpr":"(datum.value==0||datum.value==1000||datum.value==2500)?datum.label:''","title":null}}},
"layer":[{"mark":{"type":"text","fontStyle":"italic"},"encoding":{"text":{"value":"p"}}},{"mark":{"type":"text","dx":7},"encoding":{"text":{"field":"p"}}}]}
]}
]}
]}
]}
],
"config":{
"view":{"stroke":"#000","strokeWidth":1.5},
"font":"Liberation Serif",
"title":{"font":"Liberation Serif","fontWeight":"bold","color":"#000"},
"text":{"font":"Liberation Serif","fontWeight":"bold","fontSize":13.5,"color":"#000","align":"left","baseline":"alphabetic"},
"axis":{"labelFont":"Liberation Serif","labelFontWeight":"bold","labelFontSize":14,"labelColor":"#000","tickColor":"#000","tickSize":5,"tickWidth":1,"domain":false,"grid":false,"labelPadding":2,"format":"d","labelFlush":false,"labelOverlap":false,"labelBound":false}
}
}
